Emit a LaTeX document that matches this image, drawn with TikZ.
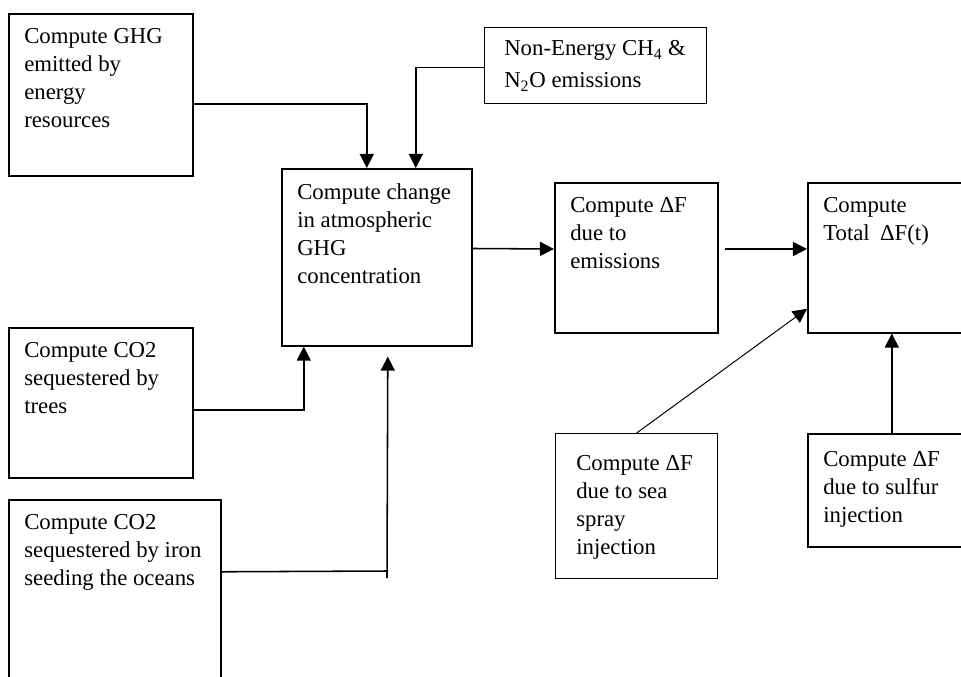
\documentclass[tikz,border=0pt]{standalone}
\usepackage{fontspec}
\setmainfont{Liberation Serif}
\usetikzlibrary{arrows.meta, positioning}
\tikzstyle{arr} = [line width=1.1pt, -{Triangle[length=10pt, width=10pt]}]

\begin{document}
\begin{tikzpicture}[
        x=0.025cm, y=-0.025cm,
        every node/.style={font=\fontsize{16.2}{19.9}\selectfont},
        block/.style={rectangle, draw, line width=1.1pt, anchor=north west,
            inner sep=0pt},
        txt/.style={anchor=north west, align=left, inner sep=0pt,
            xshift=0.4cm, yshift=-0.375cm}
    ]
    \useasboundingbox (0,0) rectangle (961,677);
    \clip (0,0) rectangle (961,677);

    \node (energy) [block, minimum width=4.6cm, minimum height=4.05cm,
        label={[txt]north west:{Compute GHG\\emitted by\\energy\\resources}}] at (8,13) {};
    \node (nonenergy) [block, line width=0.9pt, minimum width=5.55cm, minimum height=1.9cm,
        label={[txt, xshift=0.1cm, yshift=0.05cm, font=\fontsize{16.2}{22.8}\selectfont]north west:{Non-Energy CH\textsubscript{4} \&\\N\textsubscript{2}O emissions}}] at (484,27) {};
    \node (conc) [block, minimum width=4.75cm, minimum height=4.425cm,
        label={[txt]north west:{Compute change\\in atmospheric\\GHG\\concentration}}] at (281,168) {};
    \node (emis) [block, minimum width=4.075cm, minimum height=3.75cm,
        label={[txt]north west:{Compute ΔF\\due to\\emissions}}] at (554,182) {};
    \node (total) [block, minimum width=4.2cm, minimum height=3.75cm,
        label={[txt]north west:{Compute\\Total\hspace{0.45em}ΔF(t)}}] at (807,182) {};
    \node (trees) [block, minimum width=4.6cm, minimum height=3.75cm,
        label={[txt]north west:{Compute CO2\\sequestered by\\trees}}] at (8,327) {};
    \node (iron) [block, minimum width=5.3cm, minimum height=5.5cm,
        label={[txt]north west:{Compute CO2\\sequestered by iron\\seeding the oceans}}] at (8,499) {};
    \node (spray) [block, line width=0.9pt, minimum width=4.05cm, minimum height=3.625cm,
        label={[txt, xshift=0.125cm, yshift=-0.175cm]north west:{Compute ΔF\\due to sea\\spray\\injection}}] at (555,433) {};
    \node (sulfur) [block, minimum width=4.2cm, minimum height=2.825cm,
        label={[txt, yshift=-0.075cm]north west:{Compute ΔF\\due to sulfur\\injection}}] at (807,433) {};
    \coordinate (ironjoin) at (387,571);

    \draw [arr] ([yshift=-0.225cm]energy.east) -| ([xshift=-0.25cm]conc.north);
    \draw [arr] ([yshift=-0.05cm]nonenergy.west) -| ([xshift=0.975cm]conc.north);
    \draw [arr] ([yshift=0.22cm]conc.east) -- ([yshift=0.22cm]emis.west);
    \draw [arr] ([shift={(0.15cm,0.22cm)}]emis.east) -- ([yshift=0.22cm]total.west);
    \draw [arr] ([yshift=-0.175cm]trees.east) -| ([xshift=-1.825cm]conc.south);
    \draw [line width=1.1pt] ([yshift=0.95cm]iron.east) -- ([xshift=0.03cm]ironjoin);
    \draw [arr] ([yshift=-0.175cm]ironjoin) -- ([shift={(0.275cm,-0.25cm)}]conc.south);
    \draw [arr, line width=0.7pt] (spray.north) -- ([yshift=-1.275cm]total.west);
    \draw [arr] (sulfur.north) -- (total.south);
    \end{tikzpicture}
\end{document}
